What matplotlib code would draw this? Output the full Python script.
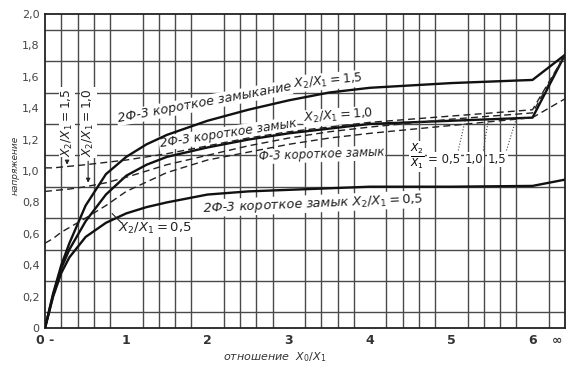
import numpy as np
import matplotlib
matplotlib.use("Agg")
import matplotlib.pyplot as plt

# значения читаются с графика; последняя точка 6.4 = "бесконечность"
x_pts = [0, 0.1, 0.2, 0.3, 0.5, 0.75, 1.0, 1.25, 1.5, 2.0, 2.5, 3.0, 3.5, 4.0, 5.0, 6.0, 6.4]
solid_15 = [0, 0.22, 0.40, 0.54, 0.78, 0.98, 1.09, 1.17, 1.23, 1.32, 1.39, 1.45, 1.50, 1.53, 1.56, 1.58, 1.74]
solid_10 = [0, 0.21, 0.38, 0.50, 0.68, 0.85, 0.97, 1.04, 1.09, 1.15, 1.20, 1.24, 1.27, 1.30, 1.32, 1.34, 1.74]
solid_05 = [0, 0.20, 0.35, 0.45, 0.58, 0.67, 0.73, 0.77, 0.80, 0.85, 0.87, 0.88, 0.89, 0.90, 0.90, 0.905, 0.945]

dash_15 = [1.02, 1.02, 1.025, 1.03, 1.04, 1.055, 1.07, 1.09, 1.11, 1.16, 1.21, 1.25, 1.28, 1.31, 1.35, 1.39, 1.74]
dash_10 = [0.87, 0.875, 0.88, 0.885, 0.90, 0.925, 0.96, 1.00, 1.04, 1.10, 1.16, 1.21, 1.25, 1.28, 1.33, 1.37, 1.74]
dash_05 = [0.54, 0.57, 0.61, 0.64, 0.70, 0.78, 0.87, 0.93, 0.99, 1.07, 1.12, 1.17, 1.21, 1.24, 1.29, 1.34, 1.46]

x_ticks = [0, 1, 2, 3, 4, 5, 6, 6.3]
x_labels = ["0 -", "1", "2", "3", "4", "5", "6", "∞"]
y_ticks = [0, 0.2, 0.4, 0.6, 0.8, 1.0, 1.2, 1.4, 1.6, 1.8, 2.0]
y_labels = ["0", "0,2", "0,4", "0,6", "0,8", "1,0", "1,2", "1,4", "1,6", "1,8", "2,0"]

W, H = 574, 373
fig = plt.figure(figsize=(W / 100, H / 100), dpi=100)
ax = fig.add_axes([45 / W, 1 - 328 / H, 520 / W, 314 / H])

ax.set_xlim(0, 6.4)
ax.set_ylim(0, 2.0)
ax.set_xticks(np.arange(0, 6.41, 0.2), minor=True)
ax.set_yticks(np.arange(0, 2.01, 0.1), minor=True)
ax.grid(which="minor", color="#4a4a4a", linewidth=1.0)
ax.set_axisbelow(True)
ax.set_xticks(x_ticks)
ax.set_xticklabels(x_labels, fontsize=9, fontweight="bold", color="#333333")
ax.set_yticks(y_ticks)
ax.set_yticklabels(y_labels, fontsize=8, color="#444444")
ax.tick_params(which="both", length=0, pad=4)
for s in ax.spines.values():
    s.set_linewidth(1.3)
    s.set_color("#222222")

for ys in (solid_15, solid_10, solid_05):
    ax.plot(x_pts, ys, color="#111111", linewidth=1.7, solid_capstyle="round", zorder=4)
for ys in (dash_15, dash_10, dash_05):
    ax.plot(x_pts, ys, color="#222222", linewidth=1.0, dashes=(5, 3), zorder=4)


def px(x, y):
    return (x - 45) / 81.0, (328 - y) / 156.5


box = dict(facecolor="white", edgecolor="none", pad=0.6)
txt = dict(fontstyle="italic", color="#222222", rotation_mode="anchor", bbox=box, zorder=3)
mid = dict(color="#222222", rotation_mode="anchor", ha="center", va="center", bbox=box, zorder=3)

# подписи вдоль кривых
ax.text(*px(118, 123), "2Ф-3 короткое замыкание", fontsize=9.2, rotation=10.5, **txt)
ax.text(*px(327, 82), "$X_2/X_1 = 1{,}5$", fontsize=9, rotation=5, **mid)
ax.text(*px(160, 148), "2Ф-3 короткое замык", fontsize=8.8, rotation=8.5, **txt)
ax.text(*px(338, 117), "$X_2/X_1 = 1{,}0$", fontsize=9, rotation=4, **mid)
ax.text(*px(258, 161), "Ф-3 короткое замык", fontsize=8.5, rotation=2, **txt)
ax.text(*px(202, 212), "2Ф-3 короткое замык $X_2/X_1 = 0{,}5$", fontsize=9.3, rotation=2.5, **txt)

ax.text(*px(416, 157), r"$\frac{X_2}{X_1}$", fontsize=11, ha="center", va="center", bbox=box, zorder=3)
for lx, lab in ((443, "= 0,5"), (473, "1,0"), (496, "1,5")):
    ax.text(*px(lx, 160), lab, fontsize=8.5, ha="center", va="center", color="#222222", bbox=box, zorder=3)
for (x0, y0), (x1, y1) in (((457, 151), (465, 116)), ((482, 151), (487, 120)), ((505, 151), (514, 122))):
    a, b = px(x0, y0)
    c, d = px(x1, y1)
    ax.plot([a, c], [b, d], color="#444444", linewidth=0.8, linestyle=":", zorder=4)

ax.text(*px(155, 229), "$X_2/X_1 = 0{,}5$", fontsize=9.5, **mid)
a, b = px(121, 223)
c, d = px(112, 214)
ax.plot([a, c], [b, d], color="#222222", linewidth=0.8, zorder=4)

ax.text(*px(67, 123), "$X_2/X_1 = 1{,}5$", fontsize=8.8, rotation=90, **mid)
ax.text(*px(88, 123), "$X_2/X_1 = 1{,}0$", fontsize=8.8, rotation=90, **mid)
ax.annotate("", xy=px(67, 168), xytext=px(67, 159),
            arrowprops=dict(arrowstyle="-|>", color="#222222", lw=0.8, mutation_scale=6), zorder=4)
ax.annotate("", xy=px(88, 186), xytext=px(88, 159),
            arrowprops=dict(arrowstyle="-|>", color="#222222", lw=0.8, mutation_scale=6), zorder=4)

fig.text(15 / W, 1 - 165 / H, "напряжение", rotation=90, fontsize=6.5, fontstyle="italic",
         ha="center", va="center", color="#333333")
fig.text(275 / W, 1 - 357 / H, "отношение  $X_0/X_1$", fontsize=8, fontstyle="italic",
         ha="center", va="center", color="#333333")

fig.savefig("out.png", dpi=100)
